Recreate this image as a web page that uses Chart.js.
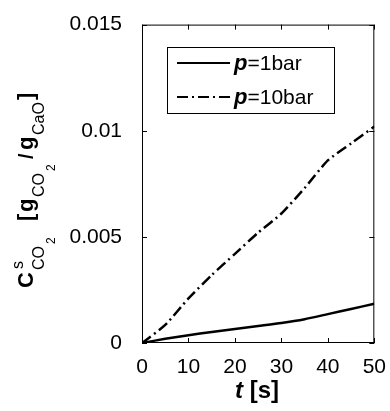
<!doctype html>
<html>

<head>
  <title>CO2 uptake</title>
  <script src="https://cdn.jsdelivr.net/npm/chart.js@4.4.0/dist/chart.umd.min.js"></script>
  <style>
    html, body {
      margin: 0;
      padding: 0;
      background: #fff;
    }
    .chart {
      width: 390px;
      height: 411px;
    }
  </style>
</head>

<body>
  <div class="chart">
    <canvas id="myChart"></canvas>
  </div>

  <script>
    var times = [0, 5, 10, 15, 20, 25, 30, 35, 40, 45, 50];
    var p1bar = [0, 0.0002, 0.00037, 0.00052, 0.00066, 0.0008, 0.00094, 0.00112, 0.00136, 0.0016, 0.00185];
    var p10bar = [0, 0.00085, 0.0021, 0.0032, 0.0042, 0.0052, 0.0061, 0.0073, 0.0086, 0.0094, 0.0102];
    var xTicks = [0, 10, 20, 30, 40, 50];
    var yTicks = [0, 0.005, 0.01, 0.015];
    var seriesNames = ['1bar', '10bar'];

    var FONT = '"Liberation Sans", Arial, sans-serif';

    function points(ys) {
      return times.map(function(t, i) { return {x: t, y: ys[i]}; });
    }

    // box, inward ticks, legend and rich axis titles
    var decor = {
      id: 'decor',
      afterDraw: function(chart) {
        var ctx = chart.ctx;
        var a = chart.chartArea;
        var xs = chart.scales.x, ys = chart.scales.y;
        ctx.save();
        ctx.strokeStyle = '#000';
        ctx.lineWidth = 1;
        ctx.strokeRect(a.left + 0.5, a.top + 0.5, a.right - a.left - 1, a.bottom - a.top - 1);
        ctx.beginPath();
        xTicks.forEach(function(v) {
          var px = Math.round(xs.getPixelForValue(v)) + 0.5;
          ctx.moveTo(px, a.bottom); ctx.lineTo(px, a.bottom - 5);
          ctx.moveTo(px, a.top); ctx.lineTo(px, a.top + 5);
        });
        yTicks.forEach(function(v) {
          var py = Math.round(ys.getPixelForValue(v)) + 0.5;
          ctx.moveTo(a.left, py); ctx.lineTo(a.left + 5, py);
          ctx.moveTo(a.right, py); ctx.lineTo(a.right - 5, py);
        });
        ctx.stroke();

        // legend
        var lx = 167, ly = 47, lw = 167, lh = 66;
        ctx.fillStyle = '#fff';
        ctx.fillRect(lx, ly, lw, lh);
        ctx.strokeRect(lx + 0.5, ly + 0.5, lw, lh);
        chart.data.datasets.forEach(function(ds, i) {
          var y = ly + 16 + i * 34;
          ctx.beginPath();
          ctx.lineWidth = 2;
          ctx.setLineDash(ds.borderDash || []);
          ctx.moveTo(177, y); ctx.lineTo(230, y);
          ctx.stroke();
          ctx.setLineDash([]);
          ctx.fillStyle = '#000';
          ctx.textBaseline = 'middle';
          ctx.textAlign = 'left';
          ctx.font = 'italic bold 22px ' + FONT;
          ctx.fillText('p', 234, y + 1);
          var w = ctx.measureText('p').width;
          ctx.font = '21px ' + FONT;
          ctx.fillText('=' + seriesNames[i], 234 + w, y + 1);
        });

        // x title
        ctx.textBaseline = 'alphabetic';
        ctx.font = 'italic bold 24px ' + FONT;
        var tw = ctx.measureText('t').width;
        ctx.font = 'bold 24px ' + FONT;
        var rw = ctx.measureText(' [s]').width;
        var sx = 257 - (tw + rw) / 2;
        ctx.font = 'italic bold 24px ' + FONT;
        ctx.fillText('t', sx, 398);
        ctx.font = 'bold 24px ' + FONT;
        ctx.fillText(' [s]', sx + tw, 398);

        // y title, rotated
        ctx.translate(33, 289);
        ctx.rotate(-Math.PI / 2);
        function piece(txt, font, u, v) {
          ctx.font = font + ' ' + FONT;
          ctx.fillText(txt, u, v);
        }
        var big = 'bold 22px', sub = '16px', sub2 = '12px';
        piece('C', big, 1, 0);
        piece('s', sub, 20, -10);
        piece('CO', sub, 19, 11);
        piece('2', sub2, 45, 22);
        piece('[', big, 68, 0);
        piece('g', big, 77, 0);
        piece('CO', sub, 92, 11);
        piece('2', sub2, 118, 22);
        piece('/', 'bold 20px', 130, 0);
        piece('g', big, 139, 0);
        piece('CaO', sub, 154, 11);
        piece(']', big, 189, 0);
        ctx.restore();
      }
    };

    var config = {
      type: 'line',
      data: {
        datasets: [{
          label: 'p=1bar',
          data: points(p1bar),
          borderColor: '#000',
          borderWidth: 2.5,
          pointRadius: 0,
          tension: 0.2
        }, {
          label: 'p=10bar',
          data: points(p10bar),
          borderColor: '#000',
          borderWidth: 2.5,
          borderDash: [11, 4, 2, 4],
          pointRadius: 0,
          tension: 0.2
        }]
      },
      options: {
        responsive: true,
        maintainAspectRatio: false,
        animation: false,
        layout: {
          padding: {left: 0, top: 23, right: 14, bottom: 0}
        },
        scales: {
          x: {
            type: 'linear',
            min: 0,
            max: 50,
            afterBuildTicks: function(s) { s.ticks = xTicks.map(function(v) { return {value: v}; }); },
            afterFit: function(s) { s.height = 68; },
            grid: {display: false},
            border: {display: false},
            ticks: {
              color: '#000',
              padding: 4,
              maxRotation: 0,
              font: {family: FONT, size: 21}
            }
          },
          y: {
            min: 0,
            max: 0.015,
            afterBuildTicks: function(s) { s.ticks = yTicks.map(function(v) { return {value: v}; }); },
            afterFit: function(s) { s.width = 142; },
            grid: {display: false},
            border: {display: false},
            ticks: {
              color: '#000',
              padding: 12,
              font: {family: FONT, size: 21},
              callback: function(v) { return String(v); }
            }
          }
        },
        plugins: {
          legend: {display: false},
          tooltip: {enabled: false}
        }
      },
      plugins: [decor]
    };

    window.onload = function() {
      var ctx = document.getElementById('myChart').getContext('2d');
      window.myChart = new Chart(ctx, config);
    };
  </script>
</body>

</html>
